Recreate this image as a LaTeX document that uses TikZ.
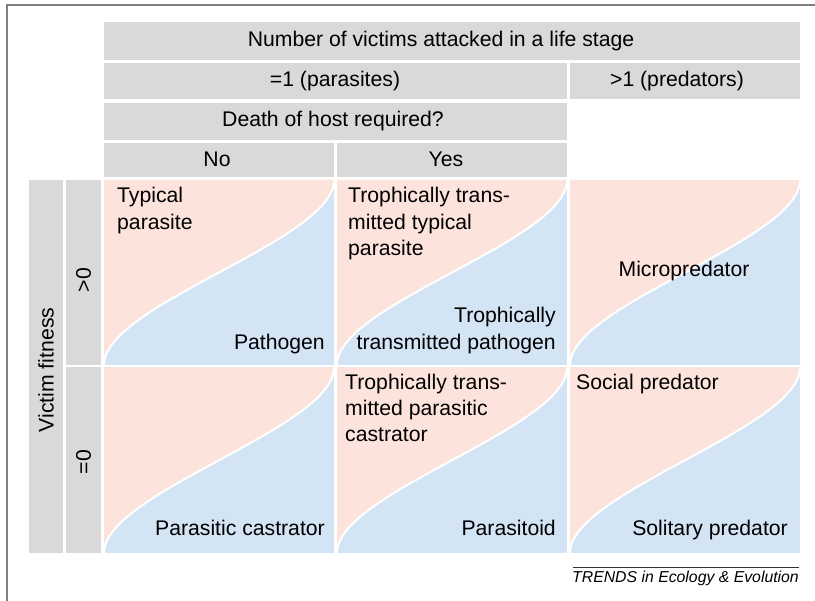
\documentclass[tikz,border=0pt]{standalone}
\usepackage{fontspec}
\setmainfont{Liberation Sans}
\usepackage{xcolor}
\definecolor{HostPink}{RGB}{252,228,220}
\definecolor{HostBlue}{RGB}{211,228,245}
\definecolor{HeadGrey}{RGB}{217,217,217}
\definecolor{FrameGrey}{RGB}{128,128,128}

\begin{document}
\begin{tikzpicture}[x=1pt, y=-1pt,
    lbl/.style={inner sep=0pt, font=\fontsize{21.2}{26}\selectfont},
    curve/.style={draw=white, line width=2pt}]

    \useasboundingbox (0,0) rectangle (815,601);

    \draw[FrameGrey, line width=1.5pt] (7,601) -- (7,5) -- (815,5); %Frame

    %Header cells
    \fill[HeadGrey] (104,22) rectangle (800,60); %Victims
    \fill[HeadGrey] (104,63) rectangle (567,99.5); %Parasites
    \fill[HeadGrey] (570,63) rectangle (800,99.5); %Predators
    \fill[HeadGrey] (104,103) rectangle (567,140); %Death
    \fill[HeadGrey] (104,143) rectangle (334,177); %No
    \fill[HeadGrey] (337,143) rectangle (567,177); %Yes
    \fill[HeadGrey] (29,180) rectangle (63,553); %Victim fitness
    \fill[HeadGrey] (66,180) rectangle (101,365); %>0
    \fill[HeadGrey] (66,367.5) rectangle (101,553); %=0

    %Header texts
    \node[lbl] (nvict) at (441,41) {Number of victims attacked in a life stage};
    \node[lbl] (paras) at (335,81.25) {=1 (parasites)};
    \node[lbl] (preds) at (677,81.25) {>1 (predators)};
    \node[lbl] (death) at (333,121.5) {Death of host required?};
    \node[lbl] (no) at (217,159) {No};
    \node[lbl] (yes) at (446,159) {Yes};
    \node[lbl, rotate=90] (vfit) at (46,370) {Victim fitness};
    \node[lbl, rotate=90] (gtz) at (83.5,280) {>0};
    \node[lbl, rotate=90] (eqz) at (83.5,462) {=0};

    %Cell: no death, fitness >0
    \fill[HostBlue] (104,180) rectangle (334,365);
    \fill[HostPink] (104,365) .. controls (104,304) and (334,241) .. (334,180) -- (104,180) -- cycle;
    \draw[curve] (104,365) .. controls (104,304) and (334,241) .. (334,180);

    %Cell: death, fitness >0
    \fill[HostBlue] (337,180) rectangle (567,365);
    \fill[HostPink] (337,365) .. controls (337,304) and (567,241) .. (567,180) -- (337,180) -- cycle;
    \draw[curve] (337,365) .. controls (337,304) and (567,241) .. (567,180);

    %Cell: predators, fitness >0
    \fill[HostBlue] (570,180) rectangle (800,365);
    \fill[HostPink] (570,365) .. controls (570,304) and (800,241) .. (800,180) -- (570,180) -- cycle;
    \draw[curve] (570,365) .. controls (570,304) and (800,241) .. (800,180);

    %Cell: no death, fitness =0
    \fill[HostBlue] (104,367.5) rectangle (334,553);
    \fill[HostPink] (104,553) .. controls (104,492) and (334,428.5) .. (334,367.5) -- (104,367.5) -- cycle;
    \draw[curve] (104,553) .. controls (104,492) and (334,428.5) .. (334,367.5);

    %Cell: death, fitness =0
    \fill[HostBlue] (337,367.5) rectangle (567,553);
    \fill[HostPink] (337,553) .. controls (337,492) and (567,428.5) .. (567,367.5) -- (337,367.5) -- cycle;
    \draw[curve] (337,553) .. controls (337,492) and (567,428.5) .. (567,367.5);

    %Cell: predators, fitness =0
    \fill[HostBlue] (570,367.5) rectangle (800,553);
    \fill[HostPink] (570,553) .. controls (570,492) and (800,428.5) .. (800,367.5) -- (570,367.5) -- cycle;
    \draw[curve] (570,553) .. controls (570,492) and (800,428.5) .. (800,367.5);

    %Cell texts, top row
    \node[lbl, anchor=base west] (typa) at (117,203) {Typical};
    \node[lbl, anchor=base west] (typb) at (117,229.5) {parasite};
    \node[lbl, anchor=base east] (patho) at (325,350) {Pathogen};
    \node[lbl, anchor=base west] (ttpa) at (348,203) {Trophically trans-};
    \node[lbl, anchor=base west] (ttpb) at (348,229.5) {mitted typical};
    \node[lbl, anchor=base west] (ttpc) at (348,256) {parasite};
    \node[lbl, anchor=base east] (ttgena) at (556,323) {Trophically};
    \node[lbl, anchor=base east] (ttgenb) at (556,350) {transmitted pathogen};
    \node[lbl, anchor=base] (micro) at (684,277) {Micropredator};

    %Cell texts, bottom row
    \node[lbl, anchor=base east] (pcast) at (325,536) {Parasitic castrator};
    \node[lbl, anchor=base west] (ttca) at (345,390) {Trophically trans-};
    \node[lbl, anchor=base west] (ttcb) at (345,416) {mitted parasitic};
    \node[lbl, anchor=base west] (ttcc) at (345,442) {castrator};
    \node[lbl, anchor=base east] (psoid) at (556,536) {Parasitoid};
    \node[lbl, anchor=base west] (social) at (576,390) {Social predator};
    \node[lbl, anchor=base east] (solit) at (788,536) {Solitary predator};

    %Journal tag
    \draw[black!80, line width=1pt] (573,568) -- (799,568);
    \node[inner sep=0pt, anchor=base east, font=\fontsize{15.8}{19}\selectfont\itshape] (trends) at (799,583) {TRENDS in Ecology \& Evolution};

\end{tikzpicture}
\end{document}
